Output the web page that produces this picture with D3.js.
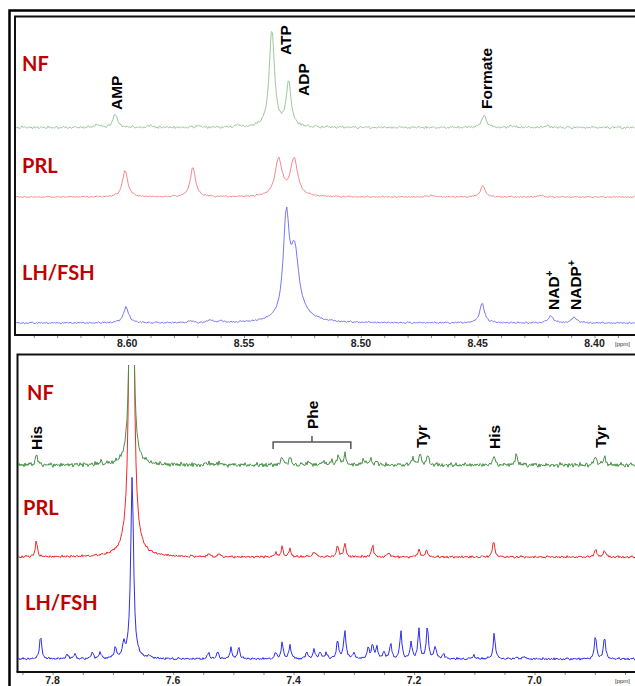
<!DOCTYPE html>
<html><head><meta charset="utf-8">
<script src="https://cdn.jsdelivr.net/npm/d3@7"></script>
<style>body{margin:0;background:#fff}svg{display:block}</style>
</head><body>
<svg id="c" width="635" height="686"></svg>
<script>
// ---------------- data ----------------
const sampleNames = ["NF", "PRL", "LH/FSH"];
const topTicks = [8.60, 8.55, 8.50, 8.45, 8.40];
const bottomTicks = [7.8, 7.6, 7.4, 7.2, 7.0];

// peaks: [ppm, intensity, half-width at half max (ppm)]
const topNF = [[8.6051,13,0.0012],[8.6130,3,0.0010],[8.5900,2,0.0010],[8.5381,99,0.0013],[8.5309,45,0.0012],
  [8.5700,2,0.0010],[8.4473,13,0.0011],[8.4200,2,0.0010],[8.4350,2,0.0010],[8.5530,2,0.0010]];
const topPRL = [[8.6009,27,0.0013],[8.5719,30,0.0013],[8.5352,37,0.0018],[8.5286,38,0.0018],
  [8.4478,12,0.0011],[8.4700,2,0.0010],[8.4230,2,0.0010]];
const topLH = [[8.6005,16,0.0013],[8.5319,98,0.0015],[8.5283,60,0.0020],[8.5270,8,0.0060],
  [8.5643,3,0.0010],[8.5730,2,0.0010],[8.5600,2,0.0008],[8.4481,20,0.0012],[8.4187,7,0.0013],[8.4086,6,0.0012]];

const botNF = [[7.827,11,0.002],[7.669,600,0.0020],[7.669,12,0.008],[7.720,3,0.002],[7.541,3,0.002],[7.524,3,0.002],
  [7.419,9,0.002],[7.406,8,0.002],[7.376,4,0.002],[7.350,5,0.002],[7.336,4,0.002],[7.326,10,0.002],[7.315,12,0.002],
  [7.284,7,0.002],[7.272,6,0.002],[7.262,4,0.002],[7.202,8,0.002],[7.190,12,0.002],[7.177,10,0.002],
  [7.068,10,0.002],[7.030,11,0.002],[6.899,10,0.002],[6.884,9,0.002]];
const botPRL = [[7.827,16,0.002],[7.669,900,0.0024],[7.669,14,0.010],[7.541,3,0.002],[7.524,3,0.002],
  [7.430,4,0.002],[7.419,10,0.002],[7.406,8,0.002],[7.366,5,0.003],[7.327,12,0.002],[7.315,14,0.002],
  [7.269,12,0.002],[7.242,5,0.002],[7.192,8,0.002],[7.179,7,0.002],[7.068,17,0.002],[6.899,8,0.002],[6.884,7,0.002]];
const botLH = [[7.820,24,0.002],[7.776,5,0.002],[7.763,5,0.002],[7.734,7,0.002],[7.721,6,0.002],[7.696,11,0.002],
  [7.682,14,0.002],[7.668,182,0.0028],[7.639,3,0.002],[7.541,6,0.002],[7.526,7,0.002],[7.504,11,0.002],[7.491,12,0.002],
  [7.430,6,0.002],[7.419,16,0.002],[7.406,14,0.002],[7.378,7,0.002],[7.366,9,0.002],[7.356,7,0.002],[7.346,6,0.002],
  [7.327,19,0.002],[7.315,28,0.0022],[7.300,6,0.002],[7.276,12,0.002],[7.269,13,0.002],[7.262,12,0.002],[7.250,7,0.002],
  [7.239,15,0.002],[7.222,27,0.002],[7.205,16,0.002],[7.192,30,0.002],[7.178,33,0.002],[7.165,13,0.002],[7.151,5,0.002],
  [7.101,4,0.002],[7.067,26,0.002],[7.030,2,0.002],[7.017,3,0.002],[6.899,23,0.002],[6.884,22,0.002]];

// hand-typed baseline ripple digits
const rippleA = "4617294053816270493851726094381572640918352760413958207164935280716493825071649382057164938207154";
const rippleB = "2951736048157390264815937026481953702648193570264819357";

const topLabels = [["AMP",8.6045],["ATP",8.5322],["ADP",8.5244],["Formate",8.4464],["NAD",8.4178,"+"],["NADP",8.4083,"+"]];
const botLabels = [["His",7.8267],["Phe",7.3695],["Tyr",7.1885],["His",7.0674],["Tyr",6.8914]];
const pheRange = [7.434, 7.305];

// ---------------- layout ----------------
const svg = d3.select("#c");
const W = 635;
const xT = d3.scaleLinear().domain([8.6, 8.4]).range([127.2, 594.5]);
const xB = d3.scaleLinear().domain([7.8, 7.0]).range([52.6, 534.6]);

function ripple(i, k) {
  const a = +rippleA[(i + k * 13) % rippleA.length];
  const b = +rippleB[(i * 3 + k * 7) % rippleB.length];
  return ((a - 4.5) / 4.5) * 0.7 + ((b - 4.5) / 4.5) * 0.3;
}
function spectrum(peaks, x, noiseAmp, k, stepPx) {
  const p0 = x.invert(0), p1 = x.invert(W + 10);
  const n = Math.ceil((W + 10) / stepPx);
  const dp = (p1 - p0) / n;
  return d3.range(n + 1).map(i => {
    const p = p0 + i * dp;
    let v = 0;
    for (const [c, h, w] of peaks) { const t = (p - c) / w; v += h / (1 + t * t); }
    return [p, v + ripple(i, k) * noiseAmp];
  });
}

const defs = svg.append("defs");
defs.append("clipPath").attr("id", "clipT").append("rect").attr("x", 16).attr("y", 18).attr("width", 640).attr("height", 316);
defs.append("clipPath").attr("id", "clipB").append("rect").attr("x", 18).attr("y", 365).attr("width", 640).attr("height", 306);

// outer frame
svg.append("path").attr("d", "M9.5,686V10.5H640").attr("fill", "none").attr("stroke", "#000").attr("stroke-width", 2.5);
// panel frames
svg.append("path").attr("d", "M15,335V16.5H640").attr("fill", "none").attr("stroke", "#111").attr("stroke-width", 2);
svg.append("path").attr("d", "M17.5,672V354.5H640").attr("fill", "none").attr("stroke", "#111").attr("stroke-width", 2);

function drawPanel(x, traces, clip, axisY, ticks, minorStep, fmt) {
  const g = svg.append("g").attr("clip-path", `url(#${clip})`);
  traces.forEach(t => {
    const y = d3.scaleLinear().domain([0, 100]).range([t.base, t.base - 100]);
    const data = spectrum(t.peaks, x, t.noise, t.k, t.step);
    g.append("path").datum(data)
      .attr("d", d3.line().x(d => x(d[0])).y(d => y(d[1])))
      .attr("fill", "none").attr("stroke", t.color).attr("stroke-width", t.sw || 1);
  });
  const dom = [x.invert(x.range()[0] - 200), x.invert(W + 20)];
  const minor = d3.range(Math.ceil(dom[1] / minorStep) * minorStep, dom[0], minorStep).filter(v => x(v) > 18 && x(v) < W);
  const axis = d3.axisBottom(x).tickValues(minor).tickSize(3).tickFormat("");
  const ag = svg.append("g").attr("transform", `translate(0,${axisY})`).call(axis);
  ag.select(".domain").remove();
  ag.selectAll(".tick line").attr("stroke", "#888").attr("stroke-width", 1);
  svg.append("line").attr("x1", clip === "clipT" ? 14 : 16.5).attr("x2", 640).attr("y1", axisY).attr("y2", axisY)
    .attr("stroke", "#111").attr("stroke-width", 2);
  svg.append("g").selectAll("text").data(ticks).join("text")
    .attr("x", d => x(d)).attr("y", axisY + 12)
    .attr("text-anchor", "middle")
    .attr("font-family", "'Liberation Sans Narrow','Arial Narrow','Liberation Sans',sans-serif")
    .attr("font-weight", "bold").attr("font-size", 10.5).attr("fill", "#222")
    .text(fmt);
  svg.append("text").attr("x", 615).attr("y", axisY + 11).attr("font-family", "Liberation Sans, sans-serif")
    .attr("font-size", 6).attr("fill", "#333").text("[ppm]");
}

drawPanel(xT, [
  { peaks: topLH, base: 323, color: "#7878f2", noise: 1.0, k: 2, step: 1.3 },
  { peaks: topPRL, base: 197, color: "#f58a8a", noise: 0.9, k: 1, step: 1.3 },
  { peaks: topNF, base: 127.5, color: "#9dc89d", noise: 1.5, k: 0, step: 1.3 }
], "clipT", 335, topTicks, 0.01, d3.format(".2f"));

drawPanel(xB, [
  { peaks: botLH, base: 659, color: "#2f2ff5", noise: 1.4, k: 5, step: 1.0 },
  { peaks: botPRL, base: 557, color: "#f02a2a", noise: 1.5, k: 4, step: 1.0 },
  { peaks: botNF, base: 465, color: "#4a914a", noise: 2.6, k: 3, step: 1.0 }
], "clipB", 672, bottomTicks, 0.05, d3.format(".1f"));

// sample names
const nameStyle = s => s.attr("font-family", "Lato, 'Open Sans', sans-serif").attr("font-weight", "bold")
  .attr("font-size", 20).attr("fill", "#c00000");
const topNamePos = [[22, 71], [22, 173], [22, 280]];
const botNamePos = [[27, 400], [23, 515], [25, 610]];
sampleNames.forEach((n, i) => {
  svg.append("text").attr("x", topNamePos[i][0]).attr("y", topNamePos[i][1]).text(n).call(nameStyle);
  svg.append("text").attr("x", botNamePos[i][0]).attr("y", botNamePos[i][1]).text(n).call(nameStyle);
});

// annotations (rotated)
function annot(x, labels, bottoms) {
  labels.forEach((l, i) => {
    const cx = x(l[1]), by = bottoms[i];
    const t = svg.append("text")
      .attr("transform", `translate(${cx},${by}) rotate(-90)`)
      .attr("dy", "0.36em")
      .attr("font-family", "'Liberation Sans', Arial, sans-serif").attr("font-weight", "bold")
      .attr("font-size", 15.5).attr("fill", "#000");
    t.append("tspan").text(l[0]);
    if (l[2]) t.append("tspan").attr("font-size", 10).attr("dy", "-0.55em").text(l[2]);
  });
}
annot(xT, topLabels, [110, 55, 96, 109, 310, 310]);
annot(xB, botLabels, [450, 429, 448, 449, 448]);

// Phe bracket
const bx1 = xB(pheRange[0]), bx2 = xB(pheRange[1]), bm = xB(botLabels[1][1]);
svg.append("path")
  .attr("d", `M${bx1},449V442H${bx2}V449M${bm},442V436`)
  .attr("fill", "none").attr("stroke", "#555").attr("stroke-width", 1.5);
</script>
</body></html>
